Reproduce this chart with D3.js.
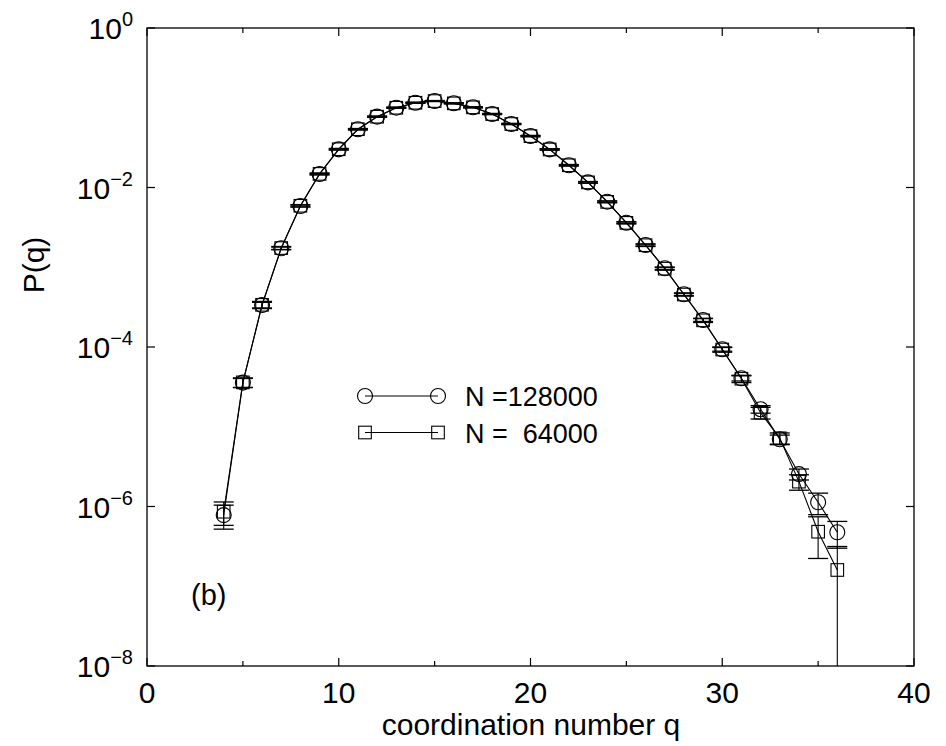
<!DOCTYPE html>
<html><head><meta charset="utf-8">
<script src="https://cdn.jsdelivr.net/npm/d3@7"></script>
<style>body{margin:0;background:#fff}text{font-family:"Liberation Sans",Arial,sans-serif;fill:#000}</style>
</head><body>
<svg id="c" width="946" height="746"></svg>
<script>
const qValues = [4,5,6,7,8,9,10,11,12,13,14,15,16,17,18,19,20,21,22,23,24,25,26,27,28,29,30,31,32,33,34,35,36];
const pN128000 = [7.8e-7,3.57e-5,3.36e-4,1.73e-3,5.86e-3,0.01476,0.0301,0.0537,0.0773,0.1002,0.1157,0.1215,0.1137,0.1013,0.0835,0.0626,0.0442,0.0301,0.0190,0.0116,6.64e-3,3.62e-3,1.90e-3,9.7e-4,4.58e-4,2.18e-4,9.36e-5,4.05e-5,1.66e-5,6.96e-6,2.55e-6,1.13e-6,4.75e-7];
const errN128000 = [2.6e-7,4.6e-6,2.7e-5,6e-5,1.5e-4,3e-4,5e-4,8e-4,1e-3,1.2e-3,1.3e-3,1.3e-3,1.3e-3,1.2e-3,1e-3,8e-4,6e-4,4.5e-4,3e-4,2e-4,1.3e-4,8e-5,5e-5,3e-5,1.5e-5,9e-6,5e-6,3e-6,1.8e-6,9e-7,4e-7,3.4e-7,1.75e-7];
const pN64000 = [8.6e-7,3.6e-5,3.38e-4,1.74e-3,5.9e-3,0.0148,0.0302,0.0538,0.0772,0.1000,0.1155,0.1213,0.1135,0.1012,0.0834,0.0625,0.0441,0.0300,0.0190,0.0116,6.6e-3,3.6e-3,1.89e-3,9.6e-4,4.55e-4,2.16e-4,9.3e-5,4.0e-5,1.50e-5,7.16e-6,2.05e-6,4.83e-7,1.60e-7];
const errN64000 = [2.8e-7,5e-6,3.5e-5,8e-5,2e-4,4e-4,7e-4,1.1e-3,1.4e-3,1.7e-3,1.8e-3,1.8e-3,1.8e-3,1.7e-3,1.4e-3,1.1e-3,8.5e-4,6.5e-4,4.3e-4,2.8e-4,1.8e-4,1.1e-4,7e-5,4.2e-5,2.1e-5,1.3e-5,7e-6,4.2e-6,2.5e-6,1.2e-6,4.5e-7,2.6e-7,1.55e-7];
const xTicks = [0,5,10,15,20,25,30,35,40];
const xTickLabels = [0,10,20,30,40];
const yTickExps = [0,-2,-4,-6,-8];
const legendLabels = ["N =128000","N =  64000"];

const svg = d3.select("#c");
const L=147, R=914, T=28, B=666;
const x = d3.scaleLinear().domain([0,40]).range([L,R]);
const y = d3.scaleLog().domain([1e-8,1]).range([B,T]);

svg.append("defs").append("clipPath").attr("id","clip")
  .append("rect").attr("x",L).attr("y",T).attr("width",R-L).attr("height",B-T);

svg.append("rect").attr("x",L).attr("y",T).attr("width",R-L).attr("height",B-T)
  .attr("fill","none").attr("stroke","#000").attr("stroke-width",1.3);

xTicks.forEach(t=>{
  const len = t%10===0 ? 8 : 5;
  svg.append("line").attr("x1",x(t)).attr("x2",x(t)).attr("y1",B).attr("y2",B-len).attr("stroke","#000").attr("stroke-width",1.2);
  svg.append("line").attr("x1",x(t)).attr("x2",x(t)).attr("y1",T).attr("y2",T+len).attr("stroke","#000").attr("stroke-width",1.2);
});
xTickLabels.forEach(t=>{
  svg.append("text").attr("x",x(t)).attr("y",703).attr("text-anchor","middle").attr("font-size",30).text(t);
});
yTickExps.forEach(e=>{
  const v = Math.pow(10,e);
  svg.append("line").attr("x1",L).attr("x2",L+8).attr("y1",y(v)).attr("y2",y(v)).attr("stroke","#000").attr("stroke-width",1.2);
  svg.append("line").attr("x1",R).attr("x2",R-8).attr("y1",y(v)).attr("y2",y(v)).attr("stroke","#000").attr("stroke-width",1.2);
  const t = svg.append("text").attr("x",133).attr("y",y(v)+11).attr("text-anchor","end").attr("font-size",30);
  t.append("tspan").text("10");
  t.append("tspan").attr("font-size",20).attr("dy",-13).text(e===0?"0":"\u2212"+(-e));
});

svg.append("text").attr("x",531).attr("y",735).attr("text-anchor","middle").attr("font-size",30).text("coordination number q");
svg.append("text").attr("transform","translate(44,265) rotate(-90)").attr("text-anchor","middle").attr("font-size",30).text("P(q)");
svg.append("text").attr("x",191).attr("y",605).attr("font-size",29).text("(b)");

const g = svg.append("g").attr("clip-path","url(#clip)");
const series = [
  {p:pN128000, e:errN128000, shape:"circle"},
  {p:pN64000, e:errN64000, shape:"square"}
];
const line = d3.line().x(d=>x(d.q)).y(d=>y(d.p));
series.forEach(s=>{
  const data = qValues.map((q,i)=>({q, p:s.p[i], e:s.e[i]}));
  g.append("path").datum(data).attr("d",line).attr("fill","none").attr("stroke","#000").attr("stroke-width",1.1);
  data.forEach(d=>{
    const hi = y(d.p+d.e);
    const lo = y(Math.max(d.p-d.e,1e-10));
    const cx = x(d.q);
    g.append("line").attr("x1",cx).attr("x2",cx).attr("y1",hi).attr("y2",lo).attr("stroke","#000").attr("stroke-width",1.1);
    g.append("line").attr("x1",cx-10).attr("x2",cx+10).attr("y1",hi).attr("y2",hi).attr("stroke","#000").attr("stroke-width",1.3);
    g.append("line").attr("x1",cx-10).attr("x2",cx+10).attr("y1",lo).attr("y2",lo).attr("stroke","#000").attr("stroke-width",1.3);
    if(s.shape==="circle"){
      g.append("circle").attr("cx",cx).attr("cy",y(d.p)).attr("r",7.5).attr("fill","none").attr("stroke","#000").attr("stroke-width",1.1);
    } else {
      g.append("rect").attr("x",cx-6.3).attr("y",y(d.p)-6.3).attr("width",12.6).attr("height",12.6).attr("fill","none").attr("stroke","#000").attr("stroke-width",1.1);
    }
  });
});

const legY = [396,432.5];
legendLabels.forEach((lab,i)=>{
  const yy = legY[i];
  svg.append("line").attr("x1",365).attr("x2",438).attr("y1",yy).attr("y2",yy).attr("stroke","#000").attr("stroke-width",1);
  [365,438].forEach(cx=>{
    if(i===0) svg.append("circle").attr("cx",cx).attr("cy",yy).attr("r",7.5).attr("fill","none").attr("stroke","#000").attr("stroke-width",1.1);
    else svg.append("rect").attr("x",cx-6.3).attr("y",yy-6.3).attr("width",12.6).attr("height",12.6).attr("fill","none").attr("stroke","#000").attr("stroke-width",1.1);
  });
  svg.append("text").attr("x",465).attr("y",yy+10).attr("font-size",27).style("white-space","pre").text(lab);
});
</script>
</body></html>
